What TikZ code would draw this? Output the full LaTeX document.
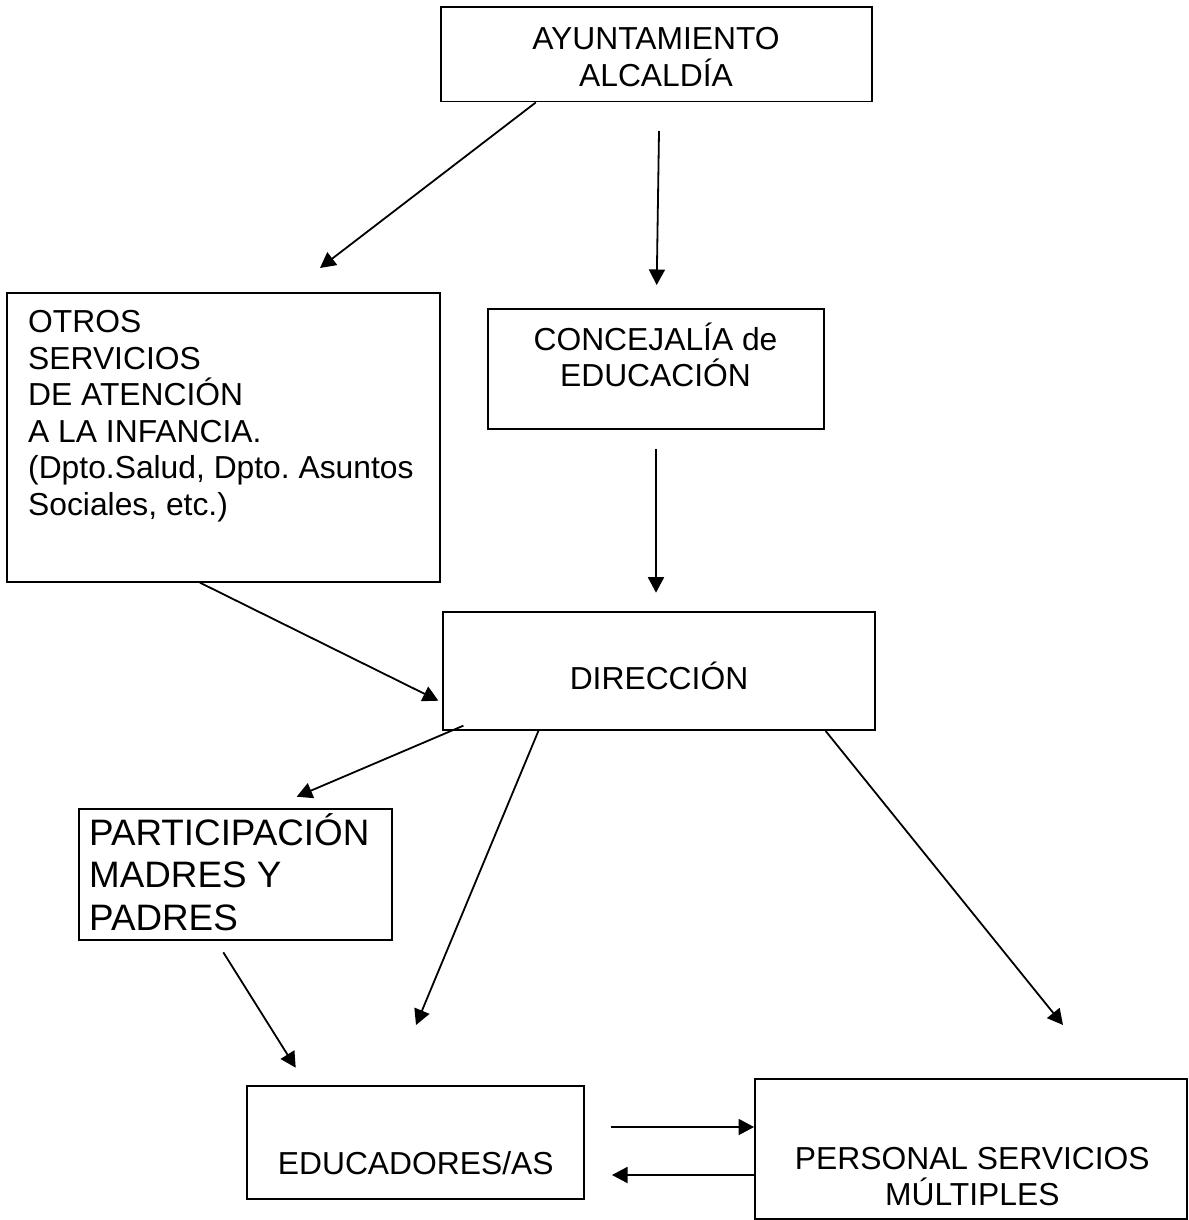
\documentclass[tikz,border=0pt]{standalone}
\usepackage{fontspec}
\setmainfont{Liberation Sans}
\usetikzlibrary{arrows.meta,calc}
\frenchspacing
\newcommand\cstk[1]{\vtop{\halign{\hfil##\hfil\cr#1\crcr}}}
\newcommand\lstk[1]{\vtop{\halign{##\hfil\cr#1\crcr}}}
\begin{document}
\frenchspacing
\begin{tikzpicture}[x=1pt,y=-1pt,
  box/.style={draw,line width=1.8pt,inner sep=0pt},
  lbl/.style={inner sep=0pt,font=\fontsize{31.8}{36.5}\selectfont},
  biglbl/.style={inner sep=0pt,font=\fontsize{36.8}{42.2}\selectfont},
  conn/.style={line width=1.8pt,-{Triangle[length=15.5pt,width=16pt]}}]
\useasboundingbox (0,0) rectangle (1188,1220);

% boxes
\node[box,minimum width=431pt,minimum height=94.5pt] (ayto) at (656.5,54.3) {};
\node[box,minimum width=432.7pt,minimum height=288.4pt] (otros) at (223.7,437.5) {};
\node[box,minimum width=336.3pt,minimum height=120pt] (conc) at (655.9,369.3) {};
\node[box,minimum width=432pt,minimum height=117.7pt] (dir) at (659.3,671.2) {};
\node[box,minimum width=313pt,minimum height=131pt] (part) at (235.5,874.5) {};
\node[box,minimum width=337pt,minimum height=113pt] (edu) at (415.5,1142.5) {};
\node[box,minimum width=432pt,minimum height=140pt] (pers) at (971,1149) {};

% texts
\node[lbl,anchor=base] (aytoT) at (656,50) {\cstk{AYUNTAMIENTO\cr ALCALDÍA}};
\node[lbl,anchor=base west] (otrosT) at (28,332.7) {\lstk{OTROS\cr SERVICIOS\cr DE ATENCIÓN\cr A LA INFANCIA.\cr (Dpto.Salud, Dpto. Asuntos\cr Sociales, etc.)}};
\node[lbl,anchor=base] (concT) at (655.5,350) {\cstk{CONCEJALÍA de\cr EDUCACIÓN}};
\node[lbl,anchor=base] (dirT) at (659,689) {DIRECCIÓN};
\node[biglbl,anchor=base west] (partT) at (89,845.7) {\lstk{PARTICIPACIÓN\cr MADRES Y\cr PADRES}};
\node[lbl,anchor=base] (eduT) at (415.7,1174.3) {EDUCADORES/AS};
\node[lbl,anchor=base] (persT) at (972.3,1169) {\cstk{PERSONAL SERVICIOS\cr MÚLTIPLES}};

% free arrow ends
\coordinate (a1e) at (320,268);
\coordinate (a2s) at (659,131);
\coordinate (a2e) at (656.7,285);
\coordinate (a3s) at (656,449);
\coordinate (a3e) at (656,592.7);
\coordinate (a5e) at (296.7,796.7);
\coordinate (a6e) at (416,1025);
\coordinate (a7e) at (1063,1025);
\coordinate (a8s) at (223.3,952.3);
\coordinate (a8e) at (295.7,1067.7);
\coordinate (a9s) at (610.7,1127);
\coordinate (a10e) at (612,1175);

% connectors
\draw[conn] ($(ayto.south west)+(95.7,0)$) -- (a1e);
\draw[conn] (a2s) -- (a2e);
\draw[conn] (a3s) -- (a3e);
\draw[conn] ($(otros.south west)+(193.4,0)$) -- ($(dir.west)+(-4,29.5)$);
\draw[conn] ($(dir.south west)+(21,-5.3)$) -- (a5e);
\draw[conn] ($(dir.south west)+(96,0)$) -- (a6e);
\draw[conn] ($(dir.south west)+(383.2,0)$) -- (a7e);
\draw[conn] (a8s) -- (a8e);
\draw[conn] (a9s) -- ($(pers.west)+(0,-22)$);
\draw[conn] ($(pers.west)+(0,26)$) -- (a10e);
\end{tikzpicture}
\end{document}
